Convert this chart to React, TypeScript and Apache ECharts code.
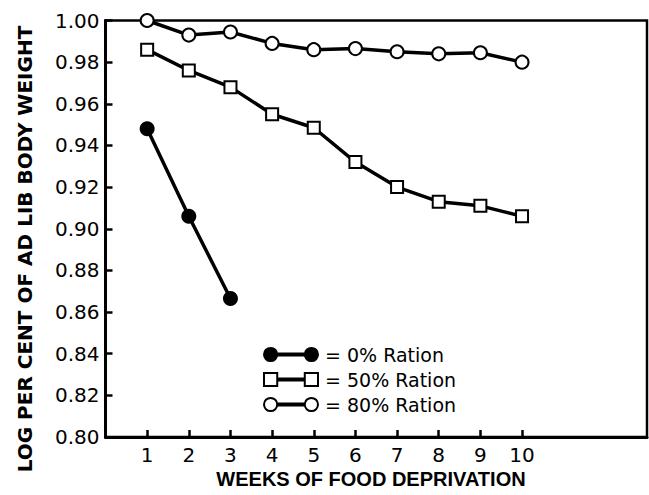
import React, { useEffect, useRef } from "react";
import * as echarts from "echarts";

const weeks = [1, 2, 3, 4, 5, 6, 7, 8, 9, 10];
const ration0 = [0.948, 0.906, 0.8665];
const ration50 = [0.986, 0.976, 0.968, 0.955, 0.9485, 0.932, 0.92, 0.913, 0.911, 0.906];
const ration80 = [1.0, 0.993, 0.9945, 0.989, 0.986, 0.9865, 0.985, 0.984, 0.9845, 0.98];
const seriesNames = ["0% Ration", "50% Ration", "80% Ration"];
const xTickLabels = weeks;
const yTicks = [0.8, 0.82, 0.84, 0.86, 0.88, 0.9, 0.92, 0.94, 0.96, 0.98, 1.0];
const xTitle = "WEEKS OF FOOD DEPRIVATION";
const yTitle = "LOG PER CENT OF AD LIB BODY WEIGHT";

const FONT = "DejaVu Sans";

const circlePair =
  "path://M1.5,7.5A6,6,0,1,1,13.5,7.5A6,6,0,1,1,1.5,7.5Z M13.5,6.5H38.5V8.5H13.5Z M38.5,7.5A6,6,0,1,1,50.5,7.5A6,6,0,1,1,38.5,7.5Z";
const squarePair =
  "path://M1.5,1.5H13.5V13.5H1.5Z M13.5,6.5H38.5V8.5H13.5Z M38.5,1.5H50.5V13.5H38.5Z";

export default function App() {
  const ref = useRef<HTMLDivElement>(null);
  useEffect(() => {
    if (!ref.current) return;
    const chart = echarts.init(ref.current, undefined, { renderer: "svg" });
    const toPairs = (vals: number[]) => vals.map((v, i) => [weeks[i], v]);
    const lineStyle = { color: "#000", width: 3.5 };
    chart.setOption({
      animation: false,
      backgroundColor: "#fff",
      grid: {
        left: 105.5,
        right: 2,
        top: 20.5,
        bottom: 58,
        show: true,
        borderColor: "#000",
        borderWidth: 2.5,
        backgroundColor: "transparent",
      },
      xAxis: {
        type: "value",
        min: 0,
        max: 13,
        interval: 1,
        axisLine: { show: true, onZero: false, lineStyle: { color: "#000", width: 3 } },
        axisTick: {
          show: true,
          inside: true,
          length: 7,
          lineStyle: { color: "#000", width: 2.5 },
          customValues: xTickLabels,
        },
        axisLabel: {
          color: "#000",
          fontFamily: FONT,
          fontSize: 20,
          margin: 8,
          customValues: xTickLabels,
          formatter: (v: number) => String(v),
        },
        splitLine: { show: false },
      },
      yAxis: {
        type: "value",
        min: 0.8,
        max: 1.0,
        interval: 0.02,
        axisLine: { show: true, onZero: false, lineStyle: { color: "#000", width: 3 } },
        axisTick: {
          show: true,
          inside: true,
          length: 7,
          lineStyle: { color: "#000", width: 2.5 },
          customValues: yTicks,
        },
        axisLabel: {
          color: "#000",
          fontFamily: FONT,
          fontSize: 20,
          margin: 6,
          customValues: yTicks,
          formatter: (v: number) => v.toFixed(2),
        },
        splitLine: { show: false },
      },
      legend: {
        orient: "vertical",
        left: 263,
        top: 345,
        padding: 0,
        itemWidth: 54,
        itemHeight: 15,
        itemGap: 6,
        symbolKeepAspect: true,
        formatter: "= {name}",
        textStyle: { color: "#000", fontFamily: FONT, fontSize: 19, padding: [0, 0, 0, 2] },
        data: [
          {
            name: seriesNames[0],
            icon: circlePair,
            itemStyle: { color: "#000", borderColor: "#000", borderWidth: 2 },
          },
          {
            name: seriesNames[1],
            icon: squarePair,
            itemStyle: { color: "#fff", borderColor: "#000", borderWidth: 2 },
          },
          {
            name: seriesNames[2],
            icon: circlePair,
            itemStyle: { color: "#fff", borderColor: "#000", borderWidth: 2 },
          },
        ],
      },
      series: [
        {
          name: seriesNames[0],
          type: "line",
          data: toPairs(ration0),
          symbol: "circle",
          symbolSize: 15,
          lineStyle,
          itemStyle: { color: "#000" },
        },
        {
          name: seriesNames[1],
          type: "line",
          data: toPairs(ration50),
          symbol: "rect",
          symbolSize: 12,
          lineStyle,
          itemStyle: { color: "#fff", borderColor: "#000", borderWidth: 2 },
        },
        {
          name: seriesNames[2],
          type: "line",
          data: toPairs(ration80),
          symbol: "circle",
          symbolSize: 13,
          lineStyle,
          itemStyle: { color: "#fff", borderColor: "#000", borderWidth: 2 },
        },
      ],
      graphic: [
        {
          type: "text",
          x: 371,
          y: 479,
          style: {
            text: xTitle,
            fill: "#000",
            font: `bold 20px "Liberation Sans"`,
            textAlign: "center",
            textVerticalAlign: "middle",
          },
        },
        {
          type: "text",
          x: 24.5,
          y: 249,
          rotation: Math.PI / 2,
          style: {
            text: yTitle,
            fill: "#000",
            font: `bold 20px "DejaVu Sans"`,
            textAlign: "center",
            textVerticalAlign: "middle",
          },
        },
      ],
    });
    return () => chart.dispose();
  }, []);
  return (
    <div
      ref={ref}
      style={{ position: "fixed", left: 0, top: 0, width: 649, height: 495, background: "#fff" }}
    />
  );
}
